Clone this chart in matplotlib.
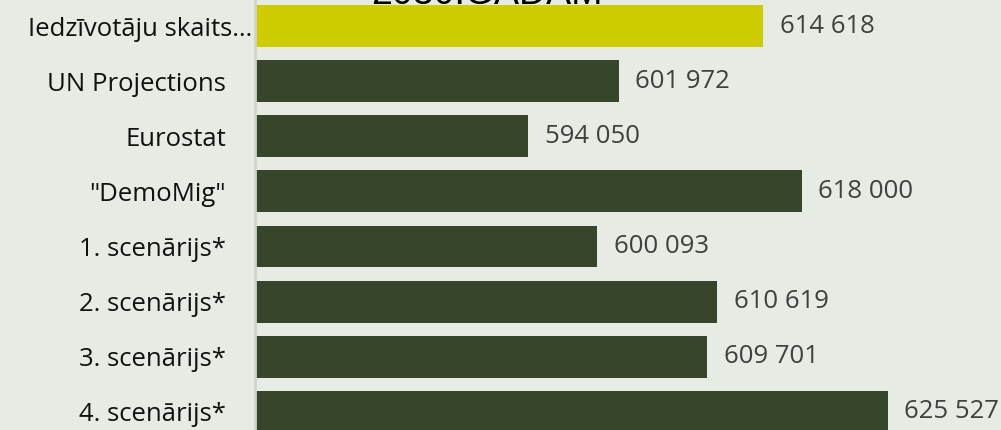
import matplotlib.pyplot as plt

categories = [
    "Iedzīvotāju skaits…",
    "UN Projections",
    "Eurostat",
    "\"DemoMig\"",
    "1. scenārijs*",
    "2. scenārijs*",
    "3. scenārijs*",
    "4. scenārijs*",
]
values = [614618, 601972, 594050, 618000, 600093, 610619, 609701, 625527]
value_labels = ["614 618", "601 972", "594 050", "618 000",
                "600 093", "610 619", "609 701", "625 527"]

BG = "#E6EBE3"
YELLOW = "#CDCC00"
GREEN = "#37462B"

plt.rcParams["font.family"] = ["Open Sans", "DejaVu Sans"]

fig = plt.figure(figsize=(10.01, 4.30), dpi=100, facecolor=BG)
ax = fig.add_axes([255 / 1001, 0.0, 1 - 255 / 1001, 1.0])
ax.set_facecolor(BG)

colors = [YELLOW] + [GREEN] * (len(values) - 1)
ypos = list(range(len(values)))
ax.barh(ypos, values, height=0.76, color=colors, left=0)

x0 = 570150
ax.set_xlim(x0, x0 + 746 / 0.011426)
ax.set_ylim(7.33, -0.472)

for y, v, lab in zip(ypos, values, value_labels):
    ax.annotate(lab, (v, y), xytext=(12, 0), textcoords="offset points",
                va="center", ha="left", fontsize=18.5, color="#404040")

ax.set_yticks(ypos)
ax.set_yticklabels(categories, fontsize=18.5, color="#111111")
ax.tick_params(axis="y", length=0, pad=21)
ax.yaxis.get_major_ticks()[0].set_pad(2)
ax.set_xticks([])

for s in ["top", "right", "bottom"]:
    ax.spines[s].set_visible(False)
ax.spines["left"].set_color("#D2D2D2")
ax.spines["left"].set_linewidth(2)

fig.text(487 / 1001, 1 - 4 / 430, "2030.GADAM", ha="center", va="baseline",
         fontsize=27, family="Liberation Sans", color="black")

fig.savefig("out.png", dpi=100, facecolor=BG)
